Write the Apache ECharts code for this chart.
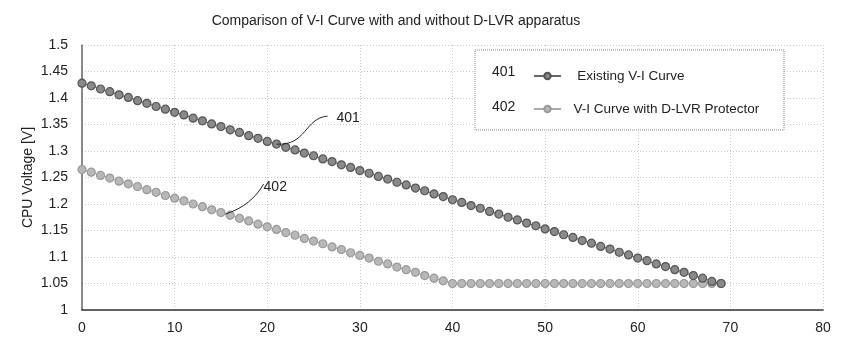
<!DOCTYPE html>
<html>
<head>
<meta charset="utf-8">
<script src="https://cdn.jsdelivr.net/npm/echarts@6/dist/echarts.min.js"></script>
<style>html,body{margin:0;padding:0;background:#fff;}#c{width:857px;height:338px;}</style>
</head>
<body>
<div id="c"></div>
<script>
const titleText = 'Comparison of V-I Curve with and without D-LVR apparatus';
const yAxisName = 'CPU Voltage [V]';
const seriesNames = ['Existing V-I Curve', 'V-I Curve with D-LVR Protector'];
const seriesRefs = ['401', '402'];
const current = [0,1,2,3,4,5,6,7,8,9,10,11,12,13,14,15,16,17,18,19,20,21,22,23,24,25,26,27,28,29,30,31,32,33,34,35,36,37,38,39,40,41,42,43,44,45,46,47,48,49,50,51,52,53,54,55,56,57,58,59,60,61,62,63,64,65,66,67,68,69];
const existing = [1.428,1.423,1.417,1.412,1.406,1.401,1.395,1.390,1.384,1.379,
  1.373,1.368,1.362,1.357,1.351,1.346,1.340,1.335,1.329,1.324,
  1.318,1.313,1.307,1.302,1.296,1.291,1.285,1.280,1.274,1.269,
  1.263,1.258,1.252,1.247,1.241,1.236,1.230,1.225,1.219,1.214,
  1.208,1.203,1.197,1.192,1.186,1.181,1.175,1.170,1.164,1.159,
  1.153,1.148,1.142,1.137,1.131,1.126,1.120,1.115,1.109,1.104,
  1.098,1.093,1.087,1.082,1.076,1.071,1.065,1.060,1.054,1.050];
const protectedV = [1.265,1.260,1.254,1.249,1.243,1.238,1.233,1.227,1.222,1.216,
  1.211,1.206,1.200,1.195,1.189,1.184,1.179,1.173,1.168,1.162,
  1.157,1.152,1.146,1.141,1.135,1.130,1.125,1.119,1.114,1.108,
  1.103,1.098,1.092,1.087,1.081,1.076,1.071,1.065,1.060,1.055,
  1.050,1.050,1.050,1.050,1.050,1.050,1.050,1.050,1.050,1.050,
  1.050,1.050,1.050,1.050,1.050,1.050,1.050,1.050,1.050,1.050,
  1.050,1.050,1.050,1.050,1.050,1.050,1.050,1.050,1.050,1.050];
const yTicks = [1, 1.05, 1.1, 1.15, 1.2, 1.25, 1.3, 1.35, 1.4, 1.45, 1.5];
const annot401 = [21, 1.313];
const annot402 = [15.5, 1.181];

const FONT = '"Liberation Sans", Arial, sans-serif';
const chart = echarts.init(document.getElementById('c'), null, {renderer: 'canvas'});
const pair = (xs, ys) => xs.map((x, i) => [x, ys[i]]);

const gridLineStyle = {color: '#c8c8c8', type: [1, 2], width: 1};

chart.setOption({
  animation: false,
  backgroundColor: '#fff',
  title: {
    text: titleText, left: 391, top: 9, textAlign: 'center',
    textStyle: {fontFamily: FONT, fontSize: 14, fontWeight: 'normal', color: '#222'}
  },
  grid: {left: 82, right: 34, top: 45, bottom: 28},
  legend: {
    left: 528, top: 64, orient: 'vertical', itemGap: 19, itemWidth: 27, itemHeight: 8,
    data: seriesNames,
    formatter: n => (n === seriesNames[0] ? '   ' : '  ') + n,
    textStyle: {fontFamily: FONT, fontSize: 13.5, color: '#222'}
  },
  xAxis: {
    type: 'value', min: 0, max: 80, interval: 10,
    axisLine: {show: true, lineStyle: {color: '#333', width: 1.5}},
    axisTick: {show: false},
    axisLabel: {fontFamily: FONT, fontSize: 14, color: '#222', margin: 11},
    splitLine: {show: true, lineStyle: gridLineStyle}
  },
  yAxis: {
    type: 'value', min: 1, max: 1.5, interval: 0.05, offset: 6,
    name: yAxisName, nameLocation: 'middle', nameGap: 41, nameRotate: 90, nameMoveOverlap: false,
    nameTextStyle: {fontFamily: FONT, fontSize: 14, color: '#222'},
    axisLine: {show: true, lineStyle: {color: '#666', width: 1.5}},
    axisTick: {show: false},
    axisLabel: {fontFamily: FONT, fontSize: 14, color: '#222', margin: 8,
      formatter: v => { const t = yTicks.find(k => Math.abs(k - v) < 1e-6); return t === undefined ? '' : String(t); }},
    splitLine: {show: true, lineStyle: gridLineStyle}
  },
  series: [
    {
      name: seriesNames[0], type: 'line', data: pair(current, existing),
      symbol: 'circle', symbolSize: 8, showSymbol: true,
      lineStyle: {color: '#666', width: 1},
      itemStyle: {color: '#8a8a8a', borderColor: '#555', borderWidth: 1.2},
      z: 3
    },
    {
      name: seriesNames[1], type: 'line', data: pair(current, protectedV),
      symbol: 'circle', symbolSize: 8, showSymbol: true,
      lineStyle: {color: '#aaa', width: 1},
      itemStyle: {color: '#b8b8b8', borderColor: '#999', borderWidth: 1.2},
      z: 2
    }
  ]
});

const p1 = chart.convertToPixel({gridIndex: 0}, annot401);
const p2 = chart.convertToPixel({gridIndex: 0}, annot402);
const txt = {fontFamily: FONT, fontSize: 14, fill: '#222'};
chart.setOption({
  graphic: [
    {type: 'rect', shape: {x: 475, y: 50, width: 309, height: 80},
     style: {fill: 'rgba(255,255,255,1)', stroke: '#888', lineWidth: 1, lineDash: [1, 1]}, z: 0, zlevel: 0},
    {type: 'text', left: 492, top: 65, style: Object.assign({text: seriesRefs[0]}, txt), z: 10},
    {type: 'text', left: 492, top: 100, style: Object.assign({text: seriesRefs[1]}, txt), z: 10},
    {type: 'bezierCurve', shape: {x1: p1[0], y1: p1[1], cpx1: p1[0] + 30, cpy1: p1[1] + 2, cpx2: p1[0] + 28, cpy2: p1[1] - 26, x2: p1[0] + 51, y2: p1[1] - 28},
     style: {stroke: '#222', lineWidth: 1, fill: null}, z: 10},
    {type: 'text', left: p1[0] + 60, top: p1[1] - 33, style: Object.assign({text: seriesRefs[0]}, txt), z: 10},
    {type: 'bezierCurve', shape: {x1: p2[0], y1: p2[1], cpx1: p2[0] + 18, cpy1: p2[1] - 6, cpx2: p2[0] + 30, cpy2: p2[1] - 16, x2: p2[0] + 38, y2: p2[1] - 30},
     style: {stroke: '#222', lineWidth: 1, fill: null}, z: 10},
    {type: 'text', left: p2[0] + 38, top: p2[1] - 34, style: Object.assign({text: seriesRefs[1]}, txt), z: 10}
  ]
});
</script>
</body>
</html>
